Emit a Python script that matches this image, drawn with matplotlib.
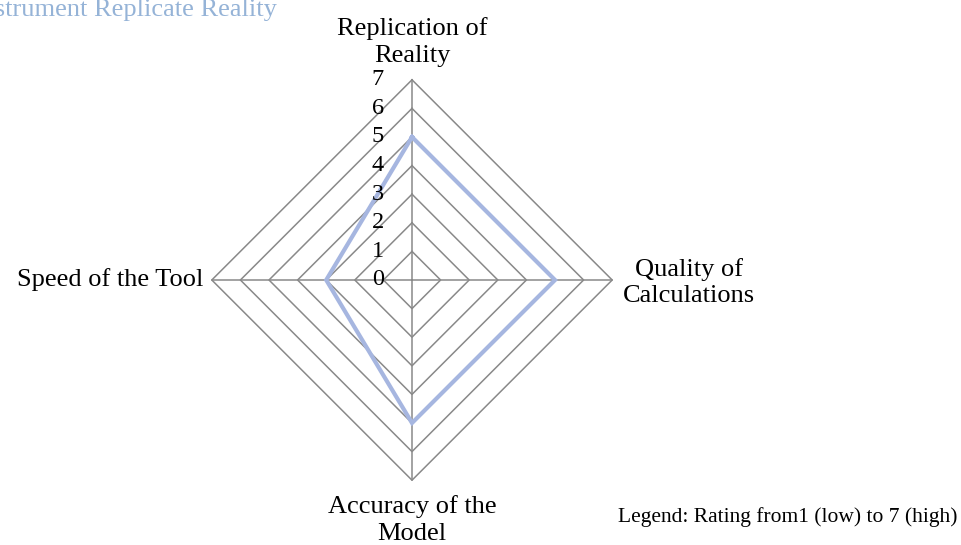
import numpy as np
import matplotlib
matplotlib.use("Agg")
import matplotlib.pyplot as plt

plt.rcParams['font.family'] = ['Liberation Serif', 'DejaVu Serif']

title = "Does the Instrument Replicate Reality"
categories = ["Replication of\nReality", "Quality of\nCalculations",
              "Accuracy of the\nModel", "Speed of the Tool"]
values = [5, 5, 5, 3]
levels = [0, 1, 2, 3, 4, 5, 6, 7]
legend_text = "Legend: Rating from1 (low) to 7 (high)"

W, H = 961, 545
fig = plt.figure(figsize=(W / 100, H / 100), dpi=100)

cx, cy, unit = 412, 265, 28.6
half = 9.5 * unit
ax = fig.add_axes([(cx - half) / W, (cy - half) / H, 2 * half / W, 2 * half / H])
ax.set_xlim(-9.5, 9.5)
ax.set_ylim(-9.5, 9.5)
ax.axis('off')

n = len(categories)
angles = np.arange(n) * 2 * np.pi / n
sx, sy = np.sin(angles), np.cos(angles)

grid_col = '#898989'
for r in levels[1:]:
    ax.plot(np.append(sx, sx[0]) * r, np.append(sy, sy[0]) * r,
            color=grid_col, lw=1.1, zorder=1)
rmax = max(levels)
for i in range(n):
    ax.plot([0, sx[i] * rmax], [0, sy[i] * rmax], color=grid_col, lw=1.1, zorder=1)

vals = np.array(values, dtype=float)
ax.plot(np.append(sx * vals, sx[0] * vals[0]), np.append(sy * vals, sy[0] * vals[0]),
        color='#A6B6E0', lw=3, zorder=3, solid_joinstyle='miter')

for r in levels:
    ax.text(-1.19, r, str(r), ha='center', va='center', fontsize=17.5, color='black', zorder=4)

fs = 19
ls = 1.25
ax.text(0, 8.32, categories[0], ha='center', va='center', fontsize=fs, linespacing=ls,
        multialignment='center')
ax.text(9.69, -0.1, categories[1], ha='center', va='center', fontsize=fs, linespacing=ls,
        multialignment='center')
ax.text(0, -8.39, categories[2], ha='center', va='center', fontsize=fs, linespacing=ls,
        multialignment='center')
ax.text(-7.31, 0, categories[3], ha='right', va='center', fontsize=fs)

fig.text(277 / W, 1 - 10 / H, title, ha='right', va='center', fontsize=19, color='#95B3D7')
fig.text(958 / W, 1 - 517 / H, legend_text, ha='right', va='center', fontsize=15.5, color='black')

fig.savefig('out.png', dpi=100)
